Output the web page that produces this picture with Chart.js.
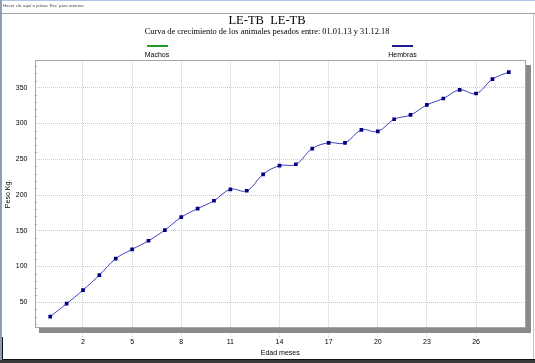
<!DOCTYPE html>
<html><head><meta charset="utf-8">
<script src="https://cdn.jsdelivr.net/npm/chart.js@4/dist/chart.umd.min.js"></script>
<style>
html,body{margin:0;padding:0;background:#fff;}
#wrap{position:relative;width:535px;height:363px;overflow:hidden;background:#fff;}
#c{position:absolute;left:0;top:0;}
#bar{position:absolute;left:3px;top:3px;font:4.3px 'Liberation Sans',Arial,sans-serif;color:#444;white-space:nowrap;line-height:6px;}
.lg{position:absolute;top:45px;width:60px;margin-left:-30px;text-align:center;font:7px 'Liberation Sans',Arial,sans-serif;color:#000;}
.lg .ln{width:21px;height:2px;margin:0 auto 4px auto;}
</style>
</head><body>
<div id="wrap">
<canvas id="c" width="535" height="363"></canvas>
<div id="bar">Hacer clic aquí o pulsar 'Esc' para retornar</div>
<div id="legend"></div>
</div>
<script>
// ---- data ----
const months = [0,1,2,3,4,5,6,7,8,9,10,11,12,13,14,15,16,17,18,19,20,21,22,23,24,25,26,27,28];
const hembras = [30,48,67,88,111,124,136,151,169,181,192,208,206,229,241,243,265,273,273,291,289,306,312,326,335,347,342,362,372];
const machos = [];
const xTicks = [2,5,8,11,14,17,20,23,26];
const yTicks = [50,100,150,200,250,300,350];
const yMinorTicks = [20,30,40,60,70,80,90,110,120,130,140,160,170,180,190,210,220,230,240,260,270,280,290,310,320,330,340,360,370,380];
const seriesNames = ['Machos','Hembras'];
const seriesColors = ['#239b23','#1c1c8c'];
const legendX = [157,402.5];

const chrome = {
  id:'chrome',
  beforeDraw(chart){
    const ctx = chart.ctx;
    ctx.save();
    ctx.fillStyle='#fff'; ctx.fillRect(0,0,535,363);
    ctx.fillStyle='#a9c8e8'; ctx.fillRect(0,0,535,1);
    ctx.fillStyle='#a0a0a0'; ctx.fillRect(0,13,535,1);
    ctx.fillStyle='#8f9eae'; ctx.fillRect(0,0,2,363);
    ctx.fillStyle='#a9c8e8'; ctx.fillRect(533,14,1,349);
    ctx.fillStyle='#111'; ctx.fillRect(2,359,533,1);
    ctx.fillStyle='#111'; ctx.fillRect(2,337,1,22);
    ctx.fillStyle='#3a3a3a'; ctx.fillRect(0,360,535,3);
    ctx.restore();
  },
  beforeDatasetsDraw(chart){
    const {ctx, chartArea:a, scales:{y}} = chart;
    ctx.save();
    ctx.strokeStyle='#c4c4c4'; ctx.lineWidth=1;
    yMinorTicks.forEach(v=>{
      const py = Math.round(y.getPixelForValue(v))+0.5;
      ctx.beginPath(); ctx.moveTo(a.left,py); ctx.lineTo(a.left+3,py); ctx.stroke();
    });
    ctx.restore();
  },
  afterDraw(chart){
    const {ctx, chartArea:a} = chart;
    ctx.save();
    ctx.strokeStyle='#a6a6a6'; ctx.lineWidth=1;
    const l=Math.round(a.left)+0.5, t=Math.round(a.top)+0.5, r=Math.round(a.right)-0.5, b=Math.round(a.bottom)-0.5;
    ctx.strokeRect(l,t,r-l,b-t);
    ctx.fillStyle='#8a8a8a';
    ctx.fillRect(r+0.5, t+4.5, 5, b-t+1);
    ctx.fillRect(l+3.5, b+0.5, r-l+2, 5);
    ctx.restore();
  }
};

const ctx = document.getElementById('c').getContext('2d');
new Chart(ctx,{
  type:'line',
  data:{
    datasets:[
      {label:seriesNames[0], data:machos.map((v,i)=>({x:months[i],y:v})), borderColor:seriesColors[0], backgroundColor:seriesColors[0]},
      {label:seriesNames[1], data:hembras.map((v,i)=>({x:months[i],y:v})),
        borderColor:'#4040bc', borderWidth:1, tension:0.4,
        pointStyle:'rect', pointRadius:2.6, pointHoverRadius:2.6,
        pointBackgroundColor:'#000080', pointBorderColor:'#000080', pointBorderWidth:0, fill:false}
    ]
  },
  options:{
    responsive:false, animation:false, devicePixelRatio:1,
    layout:{padding:{left:8,right:9,top:0,bottom:0}},
    plugins:{
      legend:{display:false}, tooltip:{enabled:false},
      title:{display:true, text:'LE-TB  LE-TB', color:'#000',
        font:{family:"'Liberation Serif','Times New Roman',serif", size:12.5, weight:'normal', lineHeight:1},
        padding:{top:14, bottom:0}},
      subtitle:{display:true, text:'Curva de crecimiento de los animales pesados entre: 01.01.13 y 31.12.18', color:'#000',
        font:{family:"'Liberation Serif','Times New Roman',serif", size:8.4, weight:'normal', lineHeight:1},
        padding:{top:1.5, bottom:23.5}}
    },
    scales:{
      x:{type:'linear', min:-0.96, max:29.05,
        afterBuildTicks(s){ s.ticks = xTicks.map(v=>({value:v})); },
        afterFit(s){ s.height = 35; },
        grid:{color:'#cacaca', lineWidth:1, drawTicks:true, tickLength:9, tickColor:'#cacaca', tickBorderDash:[1,1]},
        border:{display:false, dash:[1,1]},
        ticks:{color:'#000', padding:1, maxRotation:0, autoSkip:false, font:{family:"'Liberation Sans',Arial,sans-serif", size:7}},
        title:{display:true, text:'Edad meses', color:'#000', padding:{top:0,bottom:6}, font:{family:"'Liberation Sans',Arial,sans-serif", size:7}}
      },
      y:{type:'linear', min:14, max:389,
        afterBuildTicks(s){ s.ticks = yTicks.map(v=>({value:v})); },
        afterFit(s){ s.width = 26.5; },
        grid:{color:'#cacaca', lineWidth:1, drawTicks:false},
        border:{display:false, dash:[1,1]},
        ticks:{color:'#000', padding:7, font:{family:"'Liberation Sans',Arial,sans-serif", size:7}},
        title:{display:true, text:'Peso Kg.', color:'#000', padding:{top:-4,bottom:0}, font:{family:"'Liberation Sans',Arial,sans-serif", size:7}}
      }
    }
  },
  plugins:[chrome]
});

// HTML legend from series arrays
const lg = document.getElementById('legend');
seriesNames.forEach((n,i)=>{
  const d=document.createElement('div'); d.className='lg'; d.style.left=legendX[i]+'px';
  const ln=document.createElement('div'); ln.className='ln'; ln.style.background=seriesColors[i];
  const t=document.createElement('div'); t.textContent=n;
  d.appendChild(ln); d.appendChild(t); lg.appendChild(d);
});
</script>
</body></html>
